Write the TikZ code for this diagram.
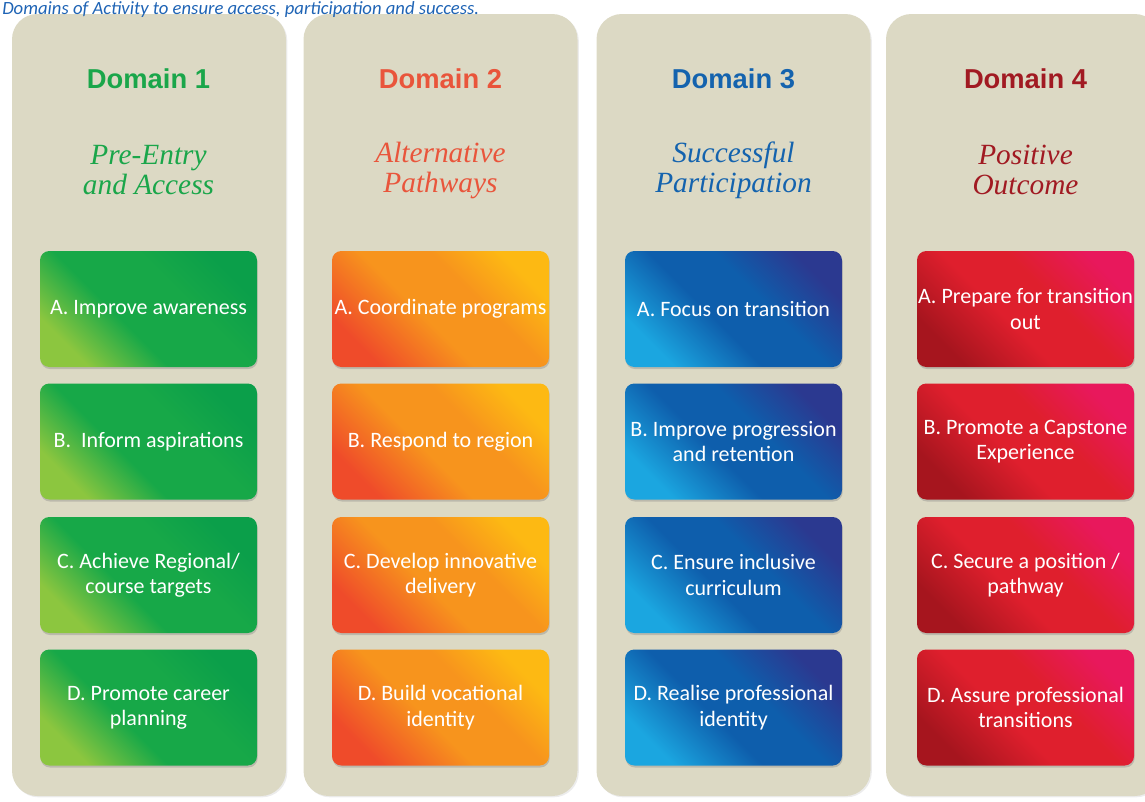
\documentclass[tikz,border=0pt]{standalone}
\usepackage{fontspec}
\setmainfont{Carlito}
\newfontfamily\headfont{Liberation Sans}
\newfontfamily\subfont{Liberation Serif}
\usetikzlibrary{shadows}

\definecolor{panelbg}{HTML}{DCD9C4}
\definecolor{capblue}{HTML}{1F64B5}
\definecolor{oneHead}{HTML}{1AA64A}
\definecolor{oneTop}{HTML}{0B9F4A}
\definecolor{oneMid}{HTML}{17A848}
\definecolor{oneLow}{HTML}{8CC63F}
\definecolor{twoHead}{HTML}{E9553B}
\definecolor{twoTop}{HTML}{FDB913}
\definecolor{twoMid}{HTML}{F7941D}
\definecolor{twoLow}{HTML}{EF4B2A}
\definecolor{threeHead}{HTML}{1463AE}
\definecolor{threeTop}{HTML}{2B3990}
\definecolor{threeMid}{HTML}{0E5EAC}
\definecolor{threeLow}{HTML}{1BA6E0}
\definecolor{fourHead}{HTML}{A11A22}
\definecolor{fourTop}{HTML}{E8185C}
\definecolor{fourMid}{HTML}{DF1F2D}
\definecolor{fourLow}{HTML}{A6151E}

% diagonal fills of the activity boxes
\pgfdeclareverticalshading{oneshade}{100bp}{color(0bp)=(oneLow); color(25bp)=(oneLow);
  color(42bp)=(oneMid); color(60bp)=(oneMid); color(75bp)=(oneTop); color(100bp)=(oneTop)}
\pgfdeclareverticalshading{twoshade}{100bp}{color(0bp)=(twoLow); color(25bp)=(twoLow);
  color(45bp)=(twoMid); color(60bp)=(twoMid); color(75bp)=(twoTop); color(100bp)=(twoTop)}
\pgfdeclareverticalshading{threeshade}{100bp}{color(0bp)=(threeLow); color(25bp)=(threeLow);
  color(44bp)=(threeMid); color(58bp)=(threeMid); color(75bp)=(threeTop); color(100bp)=(threeTop)}
\pgfdeclareverticalshading{fourshade}{100bp}{color(0bp)=(fourLow); color(25bp)=(fourLow);
  color(44bp)=(fourMid); color(58bp)=(fourMid); color(75bp)=(fourTop); color(100bp)=(fourTop)}

\tikzset{
  panel/.style={fill=panelbg, rounded corners=19pt, minimum width=205.5pt,
    minimum height=586.5pt, inner sep=0pt,
    drop shadow={shadow xshift=1pt, shadow yshift=-1pt, opacity=0.15}},
  domhead/.style={font=\headfont\bfseries\fontsize{20.5}{24}\selectfont},
  domsub/.style={font=\subfont\itshape\fontsize{22}{22.5}\selectfont, align=center},
  actbox/.style={rounded corners=7pt, minimum width=162.75pt, minimum height=87pt,
    inner sep=0pt, align=center, text=white, font=\fontsize{16.5}{19}\selectfont,
    drop shadow={shadow xshift=0.5pt, shadow yshift=-1.5pt, opacity=0.35}},
  onebox/.style={actbox, shading=oneshade, shading angle=-45},
  twobox/.style={actbox, shading=twoshade, shading angle=-45},
  threebox/.style={actbox, shading=threeshade, shading angle=-45},
  fourbox/.style={actbox, shading=fourshade, shading angle=-45}
}

\begin{document}
\begin{tikzpicture}[x=0.75pt, y=-0.75pt]
  \useasboundingbox (0,0) rectangle (1145,801);
  \clip (0,0) rectangle (1145,801);
  % Draw panels
  \node[panel] (panel1) at (149,405) {};
  \node[panel] (panel2) at (440.5,405) {};
  \node[panel] (panel3) at (733.5,405) {};
  \node[panel] (panel4) at (1023,405) {};
  % Draw caption
  \node[anchor=base west, inner sep=0pt, text=capblue, font=\itshape\fontsize{14}{16}\selectfont] (caption) at (2,14)
    {Domains of Activity to ensure access, participation and success.};
  % Draw domain titles
  \node[domhead, text=oneHead] (head1) at (148.5,79) {Domain 1};
  \node[domhead, text=twoHead] (head2) at (440.5,79) {Domain 2};
  \node[domhead, text=threeHead] (head3) at (733.5,79) {Domain 3};
  \node[domhead, text=fourHead] (head4) at (1025.5,79) {Domain 4};
  \node[domsub, text=oneHead] (sub1) at (148.5,170) {Pre-Entry\\and Access};
  \node[domsub, text=twoHead] (sub2) at (440.5,170) {Alternative\\Pathways};
  \node[domsub, text=threeHead] (sub3) at (733.5,170) {Successful\\Participation};
  \node[domsub, text=fourHead] (sub4) at (1025.5,170) {Positive\\Outcome};
  % Draw domain 1 boxes
  \node[onebox] (oneA) at (148.5,309) {A. Improve awareness};
  \node[onebox] (oneB) at (148.5,441.5) {B.\ \ Inform aspirations};
  \node[onebox] (oneC) at (148.5,575) {C. Achieve Regional/\\course targets};
  \node[onebox] (oneD) at (148.5,707.5) {D. Promote career\\planning};
  % Draw domain 2 boxes
  \node[twobox] (twoA) at (440.5,309) {A. Coordinate programs};
  \node[twobox] (twoB) at (440.5,441.5) {B. Respond to region};
  \node[twobox] (twoC) at (440.5,575) {C. Develop innovative\\delivery};
  \node[twobox] (twoD) at (440.5,707.5) {D. Build vocational\\identity};
  % Draw domain 3 boxes
  \node[threebox] (threeA) at (733.5,309) {A. Focus on transition};
  \node[threebox] (threeB) at (733.5,441.5) {B. Improve progression\\and retention};
  \node[threebox] (threeC) at (733.5,575) {C. Ensure inclusive\\curriculum};
  \node[threebox] (threeD) at (733.5,707.5) {D. Realise professional\\identity};
  % Draw domain 4 boxes
  \node[fourbox] (fourA) at (1025.5,309) {A. Prepare for transition\\out};
  \node[fourbox] (fourB) at (1025.5,441.5) {B. Promote a Capstone\\Experience};
  \node[fourbox] (fourC) at (1025.5,575) {C. Secure a position /\\pathway};
  \node[fourbox] (fourD) at (1025.5,707.5) {D. Assure professional\\transitions};
\end{tikzpicture}
\end{document}
